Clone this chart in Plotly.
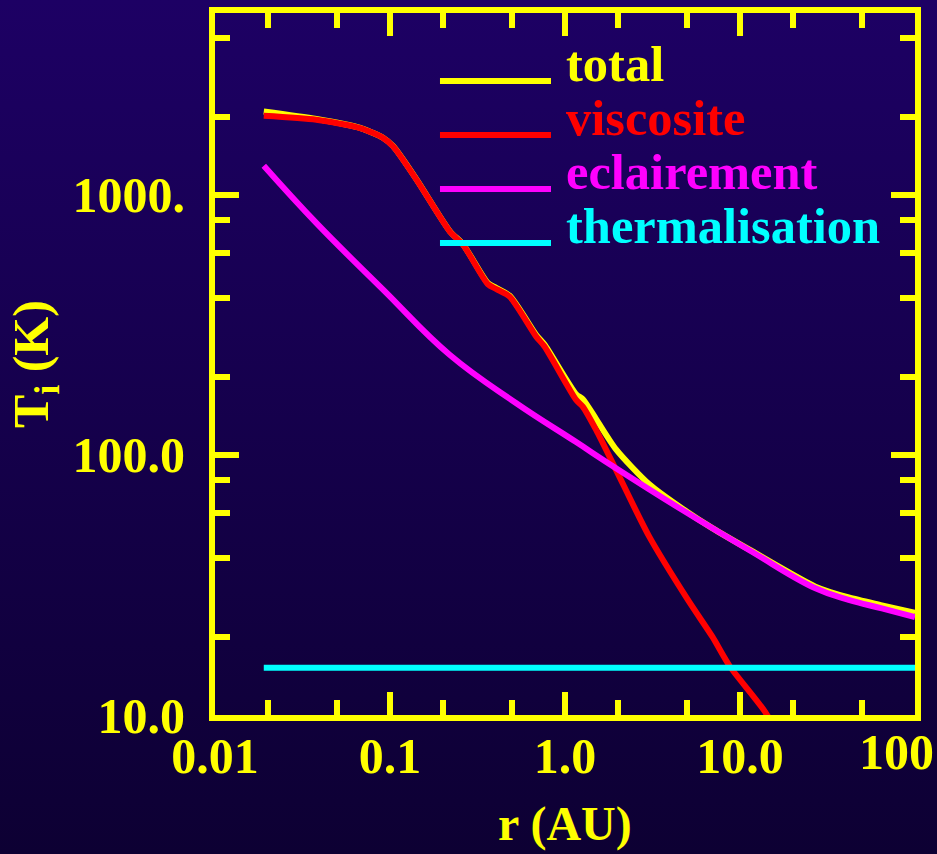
import base64
import plotly.graph_objects as go

# Radial temperature profile of the disc: total and individual heating terms
r_visc = [0.019, 0.038, 0.0675, 0.0916, 0.1044, 0.142, 0.22, 0.262, 0.363, 0.406,
          0.483, 0.685, 0.764, 1.158, 1.263, 1.506, 1.957, 3.03, 5.04, 6.95,
          8.77, 13.88, 20.0]
t_visc = [2013, 1943, 1805, 1652, 1534, 1142, 722, 642, 453, 434,
          406, 285, 261, 162.7, 153.4, 124.8, 87.6, 48.5, 27.7, 20.0,
          15.34, 10.3, 6.7]

r_ecl = [0.019, 0.038, 0.0916, 0.22, 0.527, 1.158, 1.957, 4.69, 11.26, 27.0,
         41.8, 64.7, 100.0]
t_ecl = [1293, 778, 431, 242, 158, 112, 88.9, 61.4, 43.1, 30.7,
         27.7, 25.7, 23.8]

r_total = [0.019, 0.038, 0.0675, 0.0916, 0.1044, 0.142, 0.22, 0.262, 0.363, 0.406,
           0.483, 0.685, 0.764, 1.158, 1.263, 1.506, 1.957, 3.03, 4.69, 6.95,
           11.26, 27.0, 41.8, 64.7, 100.0]
t_total = [2090, 1955, 1808, 1654, 1536, 1144, 724, 644, 457, 438,
           409, 289, 265.5, 171.1, 164, 137.3, 105, 77.1, 62.1, 52.3,
           43.3, 31.15, 28.3, 26.4, 24.7]

r_therm = [0.019, 100.0]
t_therm = [15.2, 15.2]

series_names = ["total", "viscosite", "eclairement", "thermalisation"]
series_colors = ["#ffff00", "#ff0000", "#ff00ff", "#00ffff"]
series_smoothing = [0.7, 0.7, 1.2, 0.7]

x_major = [0.01, 0.1, 1, 10]
x_major_text = ["0.01", "0.1", "1.0", "10.0"]
x_last_label = "100"
x_minor = [0.02, 0.05, 0.2, 0.5, 2, 5, 20, 50]

y_major = [10, 100, 1000]
y_major_text = ["10.0", "100.0", "1000."]
y_minor_long = [20, 40, 60, 80, 200, 400, 600, 800, 2000, 4000]
y_minor_mid = [30, 50, 300, 500, 3000]
y_minor_short = [15, 150, 1500]

YELLOW = "#ffff00"
FONT = "Liberation Serif"
X_RANGE = [-2, 2]
Y_RANGE = [1, 3.69897]

fig = go.Figure()
for (rx, ty), name, col, sm in zip(
    [(r_total, t_total), (r_visc, t_visc), (r_ecl, t_ecl), (r_therm, t_therm)],
    series_names, series_colors, series_smoothing,
):
    fig.add_trace(go.Scatter(x=rx, y=ty, mode="lines", name=name,
                             line=dict(color=col, width=6, shape="spline", smoothing=sm),
                             showlegend=False))

# vertical gradient backdrop
svg = ('<svg xmlns="http://www.w3.org/2000/svg" width="10" height="100" '
       'preserveAspectRatio="none"><defs><linearGradient id="g" x1="0" y1="0" '
       'x2="0" y2="1"><stop offset="0" stop-color="#1d0064"/>'
       '<stop offset="1" stop-color="#0d0033"/></linearGradient></defs>'
       '<rect width="10" height="100" fill="url(#g)"/></svg>')
bg_uri = "data:image/svg+xml;base64," + base64.b64encode(svg.encode()).decode()

W, H = 937, 854
L, R, T, B = 215, 22, 13, 139
pw, ph = W - L - R, H - T - B

fig.add_layout_image(dict(source=bg_uri, xref="paper", yref="paper",
                          x=-L / pw, y=1 + T / ph, sizex=W / pw, sizey=H / ph,
                          xanchor="left", yanchor="top", sizing="stretch",
                          layer="below"))

tickfont = dict(family=FONT, size=50, color=YELLOW, weight="bold")

fig.update_xaxes(type="log", range=X_RANGE, showgrid=False, zeroline=False,
                 automargin=False,
                 showline=True, linewidth=6, linecolor=YELLOW, mirror="ticks",
                 ticks="inside", ticklen=23, tickwidth=6, tickcolor=YELLOW,
                 tickmode="array", tickvals=x_major, ticktext=x_major_text,
                 tickfont=tickfont, ticklabelstandoff=-8,
                 minor=dict(tickmode="array", tickvals=x_minor, ticks="inside",
                            ticklen=15, tickwidth=6, tickcolor=YELLOW, showgrid=False))

# the last decade label sits flush against the right edge of the page
fig.add_annotation(xref="x", yref="paper", x=X_RANGE[1], y=0, xanchor="right",
                   yanchor="top", xshift=21, yshift=-7, showarrow=False,
                   text=x_last_label, font=tickfont)

# x axis title, set low against the bottom edge
fig.add_annotation(xref="paper", yref="paper", x=0.5, y=0, xanchor="center",
                   yanchor="top", yshift=-80, showarrow=False, text="r (AU)",
                   font=dict(family=FONT, size=48, color=YELLOW, weight="bold"))

fig.update_yaxes(type="log", range=Y_RANGE, showgrid=False, zeroline=False,
                 automargin=False,
                 showline=True, linewidth=6, linecolor=YELLOW, mirror="ticks",
                 ticks="inside", ticklen=24, tickwidth=6, tickcolor=YELLOW,
                 tickmode="array", tickvals=y_major, ticktext=y_major_text,
                 tickfont=tickfont, ticklabelstandoff=14,
                 minor=dict(tickmode="array", tickvals=y_minor_long, ticks="inside",
                            ticklen=15, tickwidth=6, tickcolor=YELLOW, showgrid=False),
                 title=dict(text="T<sub>i</sub> (K)", standoff=10,
                            font=dict(family=FONT, size=50, color=YELLOW, weight="bold")))

# extra overlaid y axes carrying the shorter intermediate ticks
for key, vals, ln in [("yaxis2", y_minor_mid, 9), ("yaxis3", y_minor_short, 4)]:
    fig.update_layout({key: dict(type="log", range=Y_RANGE, overlaying="y", anchor="x",
                                 automargin=False,
                                 showgrid=False, zeroline=False, showline=False,
                                 mirror="ticks", ticks="inside", ticklen=ln,
                                 tickwidth=6, tickcolor=YELLOW, tickmode="array",
                                 tickvals=vals, showticklabels=False)})

# hand-placed key with long line samples
key_x0, key_x1, key_tx = 0.3214, 0.48, 0.4986
key_rows = [0.9031, 0.8262, 0.7493, 0.6724]
for name, col, yy in zip(series_names, series_colors, key_rows):
    fig.add_shape(type="line", xref="paper", yref="paper", x0=key_x0, x1=key_x1,
                  y0=yy, y1=yy, line=dict(color=col, width=6))
    fig.add_annotation(xref="paper", yref="paper", x=key_tx, y=yy, xanchor="left",
                       yanchor="middle", yshift=17, showarrow=False, text=name,
                       font=dict(family=FONT, size=50.5, color=col, weight="bold"))

fig.update_layout(width=W, height=H, margin=dict(l=L, r=R, t=T, b=B, pad=0),
                  paper_bgcolor="#15004a", plot_bgcolor="rgba(0,0,0,0)",
                  showlegend=False)

fig.write_html("out.html", config={"displayModeBar": False})
